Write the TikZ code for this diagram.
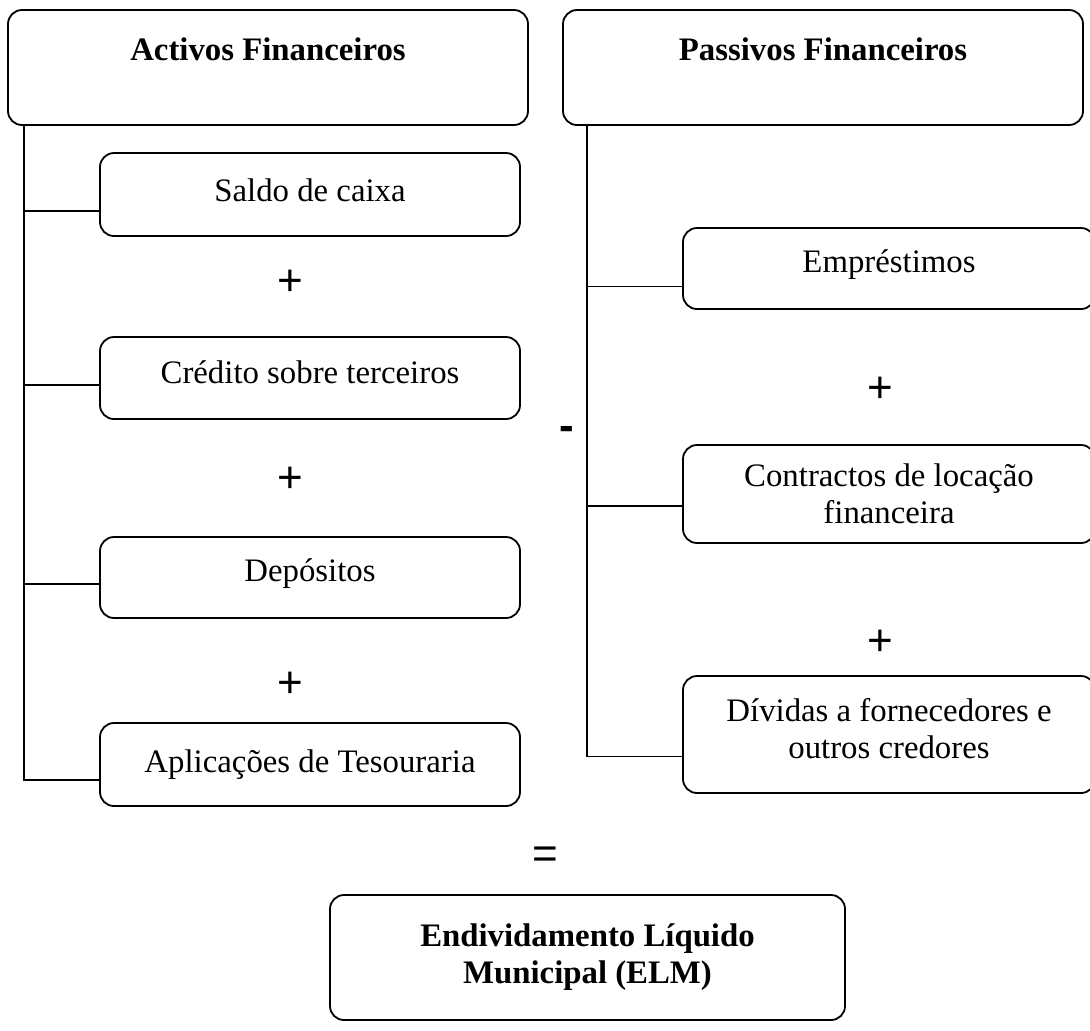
\documentclass[tikz,border=0pt]{standalone}
\usepackage{fontspec}
\setmainfont{Liberation Serif}
\newfontfamily\sinalfont{Liberation Sans}
\usetikzlibrary{positioning}

\begin{document}
\begin{tikzpicture}[x=0.5pt,y=-0.5pt,
  caixa/.style={draw,rounded corners=7pt,line width=0.9pt,align=center,inner sep=0pt,
    font=\fontsize{16.4}{18.5}\selectfont},
  sinal/.style={inner sep=0pt,font=\sinalfont\fontsize{22}{22}\selectfont},
  ligacao/.style={line width=0.95pt}]
\useasboundingbox (0,0) rectangle (1090,1030);
% blocos de topo
\node[caixa,minimum width=260pt,minimum height=57.5pt] (activos) at (268,67.5) {\textbf{Activos Financeiros}\\ \mbox{}};
\node[caixa,minimum width=260pt,minimum height=57.5pt] (passivos) at (823,67.5) {\textbf{Passivos Financeiros}\\ \mbox{}};
% activos
\node[caixa,minimum width=210pt,minimum height=41.5pt,text depth=4pt] (saldo) at (310,194.5) {Saldo de caixa};
\node[caixa,minimum width=210pt,minimum height=41pt,text depth=6pt] (credito) at (310,378) {Crédito sobre terceiros};
\node[caixa,minimum width=210pt,minimum height=40.5pt,text depth=7.5pt] (depositos) at (310,577.5) {Depósitos};
\node[caixa,minimum width=210pt,minimum height=41.5pt] (aplicacoes) at (310,764.5) {Aplicações de Tesouraria};
% passivos
\node[caixa,minimum width=206pt,minimum height=40.5pt,text depth=7.5pt] (emprestimos) at (889,268.5) {Empréstimos};
\node[caixa,minimum width=206pt,minimum height=49pt] (contractos) at (889,494) {Contractos de locação\\financeira};
\node[caixa,minimum width=206pt,minimum height=58.5pt,text depth=6pt] (dividas) at (889,734.5) {Dívidas a fornecedores e\\outros credores};
% resultado
\node[caixa,minimum width=257.5pt,minimum height=62.5pt] (elm) at (587.5,957.5) {\textbf{Endividamento Líquido}\\\textbf{Municipal (ELM)}};
% sinais
\node[sinal] (mais1) at (290,283) {+};
\node[sinal] (mais2) at (290,480) {+};
\node[sinal] (mais3) at (290,685) {+};
\node[sinal] (mais4) at (880,390) {+};
\node[sinal] (mais5) at (880,643) {+};
\node[sinal,font=\sinalfont\bfseries\fontsize{22}{22}\selectfont] (menos) at (567,433) {-};
\node[sinal] (igual) at (545,858) {=};
% ligacoes
\draw[ligacao] ([xshift=8.5pt]activos.south west) |- ([yshift=-7.75pt]aplicacoes.west);
\draw[ligacao] ([yshift=-8.25pt]saldo.west) -- ++(-75,0);
\draw[ligacao] ([yshift=-3.5pt]credito.west) -- ++(-75,0);
\draw[ligacao] ([yshift=-3.25pt]depositos.west) -- ++(-75,0);
\draw[ligacao] ([xshift=12.5pt]passivos.south west) |- ([yshift=-11pt]dividas.west);
\draw[ligacao] ([yshift=-9pt]emprestimos.west) -- ++(-95,0);
\draw[ligacao] ([yshift=-6pt]contractos.west) -- ++(-95,0);
\end{tikzpicture}
\end{document}
